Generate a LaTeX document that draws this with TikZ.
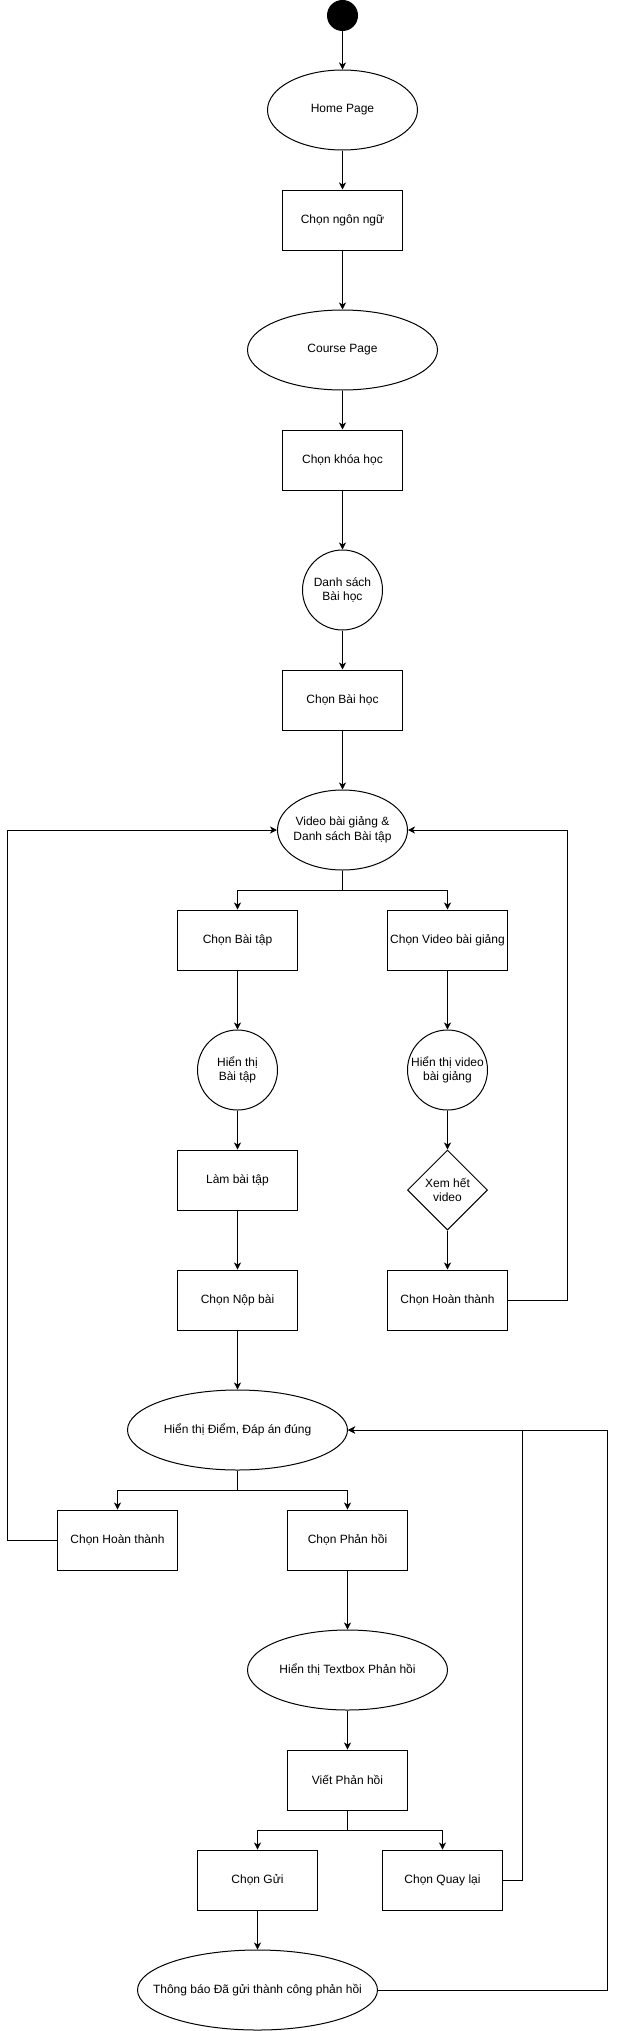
\documentclass[tikz,border=0pt]{standalone}
\usepackage{fontspec}
\setmainfont{Liberation Sans}
\usetikzlibrary{shapes.geometric,arrows.meta}
\begin{document}
\begin{tikzpicture}[x=1pt,y=-1pt, line width=1pt,
  every node/.style={font=\fontsize{12pt}{14.5pt}\selectfont},
  box/.style={draw, rectangle, minimum width=120pt, minimum height=60pt, inner sep=0pt},
  ell/.style={draw, ellipse, inner sep=0pt, minimum height=80pt},
  dia/.style={draw, diamond, inner sep=0pt, minimum width=80pt, minimum height=80pt},
  arr/.style={-{Stealth[length=7pt,width=7pt,inset=2pt]}},
  lbl/.style={align=center}
]
\useasboundingbox (0,0) rectangle (616,2031);

\node[draw, circle, fill=black, minimum size=30pt, inner sep=0pt] (start) at (342.5,15.5) {};
\node[ell, minimum width=150pt, label={center:Home Page}] (home) at (342.5,110) {};
\node[box] (ngonngu) at (342.5,220) {Chọn ngôn ngữ};
\node[ell, minimum width=190pt, label={center:Course Page}] (course) at (342.5,350) {};
\node[box] (khoahoc) at (342.5,460) {Chọn khóa học};
\node[ell, minimum width=80pt, label={[lbl]center:Danh sách\\Bài học}] (dsbh) at (342.5,590) {};
\node[box] (baihoc) at (342.5,700) {Chọn Bài học};
\node[ell, minimum width=130pt, label={[lbl]center:Video bài giảng \&\\Danh sách Bài tập}] (video) at (342.5,830) {};
\node[box] (cbt) at (237.5,940) {Chọn Bài tập};
\node[box] (cvid) at (447.5,940) {Chọn Video bài giảng};
\node[ell, minimum width=80pt, label={[lbl]center:Hiển thị\\Bài tập}] (htbt) at (237.5,1070) {};
\node[ell, minimum width=80pt, label={[lbl]center:Hiển thị video\\bài giảng}] (htvid) at (447.5,1070) {};
\node[box] (lam) at (237.5,1180) {Làm bài tập};
\node[dia, label={[lbl]center:Xem hết\\video}] (xem) at (447.5,1190) {};
\node[box] (nop) at (237.5,1300) {Chọn Nộp bài};
\node[box] (htR) at (447.5,1300) {Chọn Hoàn thành};
\node[ell, minimum width=220pt, label={center:{Hiển thị Điểm, Đáp án đúng}}] (diem) at (237.5,1430) {};
\node[box] (htL) at (117.5,1540) {Chọn Hoàn thành};
\node[box] (ph) at (347.5,1540) {Chọn Phản hồi};
\node[ell, minimum width=200pt, label={center:Hiển thị Textbox Phản hồi}] (tb) at (347.5,1670) {};
\node[box] (viet) at (347.5,1780) {Viết Phản hồi};
\node[box] (gui) at (257.5,1880) {Chọn Gửi};
\node[box] (ql) at (442.5,1880) {Chọn Quay lại};
\node[ell, minimum width=240pt, label={center:Thông báo Đã gửi thành công phản hồi}] (tbao) at (257.5,1990) {};

\coordinate (lx) at (7.5,830);
\coordinate (rx) at (567.5,830);
\coordinate (mx) at (522.5,1430);
\coordinate (fx) at (607.5,1430);

\draw[arr] (start) -- (home);
\draw[arr] (home) -- (ngonngu);
\draw[arr] (ngonngu) -- (course);
\draw[arr] (course) -- (khoahoc);
\draw[arr] (khoahoc) -- (dsbh);
\draw[arr] (dsbh) -- (baihoc);
\draw[arr] (baihoc) -- (video);
\draw[arr] (video.south) -- ++(0,20) -| (cbt.north);
\draw[arr] (video.south) -- ++(0,20) -| (cvid.north);
\draw[arr] (cbt) -- (htbt);
\draw[arr] (htbt) -- (lam);
\draw[arr] (lam) -- (nop);
\draw[arr] (nop) -- (diem);
\draw[arr] (cvid) -- (htvid);
\draw[arr] (htvid) -- (xem);
\draw[arr] (xem) -- (htR);
\draw[arr] (htR.east) -- (htR.east -| rx) |- (video.east);
\draw[arr] (diem.south) -- ++(0,20) -| (htL.north);
\draw[arr] (diem.south) -- ++(0,20) -| (ph.north);
\draw[arr] (htL.west) -- (htL.west -| lx) |- (video.west);
\draw[arr] (ph) -- (tb);
\draw[arr] (tb) -- (viet);
\draw[arr] (viet.south) -- ++(0,20) -| (gui.north);
\draw[arr] (viet.south) -- ++(0,20) -| (ql.north);
\draw[arr] (gui) -- (tbao);
\draw[arr] (ql.east) -- (ql.east -| mx) |- (diem.east);
\draw[arr] (tbao.east) -- (tbao.east -| fx) |- (diem.east);
\end{tikzpicture}
\end{document}
